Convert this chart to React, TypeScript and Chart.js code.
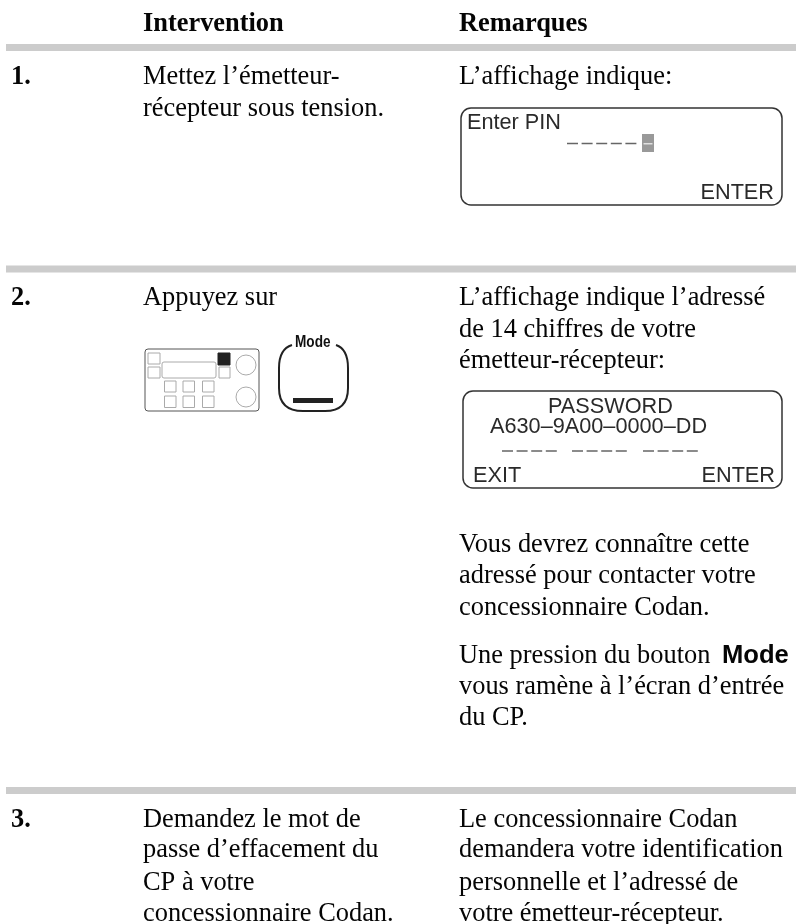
import React, { useEffect, useRef } from "react";
import { Chart, registerables } from "chart.js";

Chart.register(...registerables);

// ---- content ----
const headers = ["Intervention", "Remarques"];
const stepNumbers = ["1.", "2.", "3."];
const step1Action = ["Mettez l’émetteur-", "récepteur sous tension."];
const step1Notes = ["L’affichage indique:"];
const step2Action = ["Appuyez sur"];
const step2Notes = ["L’affichage indique l’adressé", "de 14 chiffres de votre", "émetteur-récepteur:"];
const step2Notes2 = ["Vous devrez connaître cette", "adressé pour contacter votre", "concessionnaire Codan."];
const step2Notes3 = ["Une pression du bouton", "vous ramène à l’écran d’entrée", "du CP."];
const step3Action = ["Demandez le mot de", "passe d’effacement du", "CP à votre", "concessionnaire Codan."];
const step3Notes = ["Le concessionnaire Codan", "demandera votre identification", "personnelle et l’adressé de", "votre émetteur-récepteur."];
const modeLabel = "Mode";
const display1 = ["Enter PIN", "ENTER"];
const display2 = ["PASSWORD", "A630–9A00–0000–DD", "EXIT", "ENTER"];

// ---- layout ----
const W = 796;
const H = 924;
const SERIF = '"Liberation Serif"';
const SANS = '"Liberation Sans"';
const COL0 = 11;
const COL1 = 143;
const COL2 = 459;
const RULE_LEFT = 6;
const ruleRows = [47.5, 269, 790.5];
const dashRows: [number, number, number][] = [
  [567, 639, 143.5],
  [502, 558, 451],
  [572, 628, 451],
  [643, 699, 451],
];

type T = [string, number, number, string?, string?, string?, number?];

function App() {
  const ref = useRef<HTMLCanvasElement>(null);
  useEffect(() => {
    const serif = `26.4px ${SERIF}`;
    const bold = `bold 26.4px ${SERIF}`;
    const sans = `21.7px ${SANS}`;
    const ink = "#2a2a2a";
    const texts: T[] = [
      [headers[0], COL1, 31, bold],
      [headers[1], COL2, 31, bold],
      [stepNumbers[0], COL0, 84, bold],
      [step1Action[0], COL1, 84],
      [step1Action[1], COL1, 116],
      [step1Notes[0], COL2, 84],
      [stepNumbers[1], COL0, 305, bold],
      [step2Action[0], COL1, 305],
      [step2Notes[0], COL2, 305],
      [step2Notes[1], COL2, 337],
      [step2Notes[2], COL2, 368],
      [step2Notes2[0], COL2, 552],
      [step2Notes2[1], COL2, 583],
      [step2Notes2[2], COL2, 615],
      [step2Notes3[0], COL2, 663],
      [step2Notes3[1], COL2, 694],
      [step2Notes3[2], COL2, 725],
      [modeLabel, 722, 663, `bold 25.6px ${SANS}`],
      [stepNumbers[2], COL0, 827, bold],
      [step3Action[0], COL1, 827],
      [step3Action[1], COL1, 857],
      [step3Action[2], COL1, 890],
      [step3Action[3], COL1, 921],
      [step3Notes[0], COL2, 827],
      [step3Notes[1], COL2, 857],
      [step3Notes[2], COL2, 890],
      [step3Notes[3], COL2, 921],
      [display1[0], 467, 129, sans, ink],
      [display1[1], 774, 199, sans, ink, "right"],
      [display2[0], 548, 413, sans, ink],
      [display2[1], 490, 433, sans, ink],
      [display2[2], 473, 482, sans, ink],
      [display2[3], 775, 482, sans, ink, "right"],
      [modeLabel, 295, 347, `bold 17px ${SANS}`, "#111", "left", 0.8],
    ];

    const pagePlugin = {
      id: "page",
      afterDatasetsDraw(chart: any) {
        const c: CanvasRenderingContext2D = chart.ctx;
        const sx = chart.scales.x;
        const sy = chart.scales.y;
        const X = (v: number) => sx.getPixelForValue(v);
        const Y = (v: number) => sy.getPixelForValue(v);
        const rr = (x0: number, y0: number, x1: number, y1: number, r: number, stroke: string, lw: number, fill?: string) => {
          c.beginPath();
          c.roundRect(X(x0), Y(y0), X(x1) - X(x0), Y(y1) - Y(y0), r);
          if (fill) {
            c.fillStyle = fill;
            c.fill();
          }
          if (lw > 0) {
            c.strokeStyle = stroke;
            c.lineWidth = lw;
            c.stroke();
          }
        };
        c.save();
        // LCD displays
        rr(461, 108, 782, 205, 10, "#333", 1.5);
        rr(463, 391, 782, 488, 10, "#333", 1.5);
        // cursor
        c.fillStyle = "#999";
        c.fillRect(X(642), Y(134), 12, 18);
        c.fillStyle = "#e0e0e0";
        c.fillRect(X(643.5), Y(143), 9, 1.5);
        // front panel icon
        rr(145, 349, 259, 411, 3, "#555", 1);
        const g = "#aaa";
        rr(148, 353, 160, 364, 0, g, 1);
        rr(148, 367, 160, 378, 0, g, 1);
        rr(162, 362, 216, 378, 2, g, 1);
        rr(218, 353, 230, 365, 0, "#222", 1, "#222");
        rr(219, 367, 230, 378, 0, g, 1);
        [164.5, 183, 202.5].forEach((x) => {
          rr(x, 381, x + 11.5, 392, 0, g, 1);
          rr(x, 396, x + 11.5, 407.5, 0, g, 1);
        });
        [365, 397].forEach((y) => {
          c.beginPath();
          c.arc(X(246), Y(y), 10, 0, Math.PI * 2);
          c.strokeStyle = g;
          c.lineWidth = 1;
          c.stroke();
        });
        // Mode key
        c.beginPath();
        c.moveTo(X(292), Y(345));
        c.quadraticCurveTo(X(279), Y(349), X(279), Y(368));
        c.lineTo(X(279), Y(388));
        c.quadraticCurveTo(X(279), Y(411), X(303), Y(411));
        c.lineTo(X(325), Y(411));
        c.quadraticCurveTo(X(348), Y(411), X(348), Y(388));
        c.lineTo(X(348), Y(368));
        c.quadraticCurveTo(X(348), Y(349), X(336), Y(345));
        c.strokeStyle = "#222";
        c.lineWidth = 2;
        c.stroke();
        c.fillStyle = "#222";
        c.fillRect(X(293), Y(398), 40, 5);
        // text
        c.textBaseline = "alphabetic";
        texts.forEach(([s, x, y, font, color, align, squeeze]) => {
          c.save();
          c.font = font || serif;
          c.fillStyle = color || "#050505";
          c.textAlign = (align as CanvasTextAlign) || "left";
          c.translate(X(x), Y(y));
          c.scale(squeeze || 1, 1);
          c.fillText(s, 0, 0);
          c.restore();
        });
        c.restore();
      },
    };

    const chart = new Chart(ref.current!, {
      type: "scatter",
      data: {
        datasets: [
          ...ruleRows.map((y) => ({
            data: [
              { x: RULE_LEFT, y },
              { x: W, y },
            ],
            showLine: true,
            borderColor: "#cccccc",
            borderWidth: 7,
            pointRadius: 0,
          })),
          ...dashRows.map(([x0, x1, y]) => ({
            data: [
              { x: x0, y },
              { x: x1, y },
            ],
            showLine: true,
            borderColor: "#666666",
            borderWidth: 1.6,
            borderDash: [11, 3.6],
            pointRadius: 0,
          })),
        ],
      },
      options: {
        animation: false,
        responsive: false,
        layout: { padding: 0 },
        plugins: { legend: { display: false }, tooltip: { enabled: false } },
        scales: {
          x: { type: "linear", display: false, min: 0, max: W },
          y: { type: "linear", display: false, min: 0, max: H, reverse: true },
        },
      },
      plugins: [pagePlugin],
    } as any);
    return () => chart.destroy();
  }, []);

  return (
    <div style={{ position: "absolute", left: 0, top: 0, width: W, height: H, background: "#fff" }}>
      <canvas ref={ref} width={W} height={H} style={{ display: "block" }} />
    </div>
  );
}

export default App;
